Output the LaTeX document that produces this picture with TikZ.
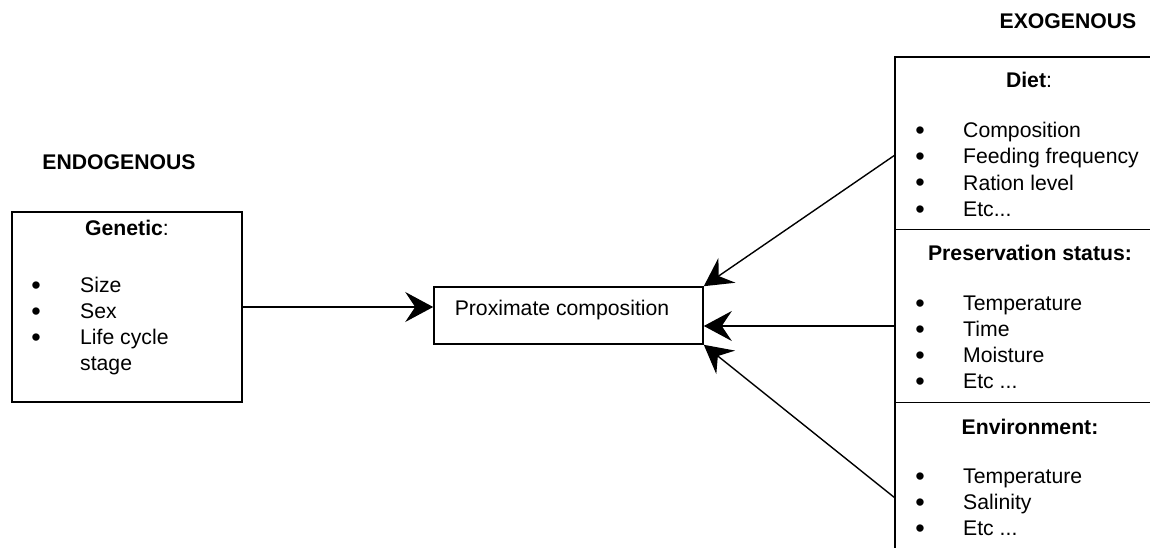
\documentclass[tikz,border=0pt]{standalone}
\usepackage{fontspec}
\setmainfont{Liberation Sans}
\usetikzlibrary{arrows.meta}
\begin{document}
\begin{tikzpicture}[x=1pt,y=-1pt,
  txt/.style={inner sep=0pt, font=\fontsize{21.2}{26}\selectfont},
  bul/.style={inner sep=0pt, anchor=base, font=\fontsize{27}{27}\selectfont, yshift=-2pt},
  item/.style={txt, anchor=base west},
  head/.style={txt, anchor=base},
  box/.style={draw, line width=1.6pt, inner sep=0pt},
  frame/.style={line width=1.6pt},
  conn/.style={line width=1.4pt, -{Stealth[length=28pt,width=30pt,inset=10pt]}}
]
\useasboundingbox (0,0) rectangle (1150,548);

% titles
\node[head] (endo) at (119,170) {\textbf{ENDOGENOUS}};
\node[head] (exo) at (1068,29) {\textbf{EXOGENOUS}};

% genetic box
\node[box, minimum width=230pt, minimum height=190pt] (gen) at (127,307) {};
\node[head] (genh) at (127,235) {\textbf{Genetic}:};
\node[bul] (gb1) at (36,292) {•};
\node[item] (gi1) at (80,292) {Size};
\node[bul] (gb2) at (36,318) {•};
\node[item] (gi2) at (80,318) {Sex};
\node[bul] (gb3) at (36,344) {•};
\node[item] (gi3) at (80,344) {Life cycle};
\node[item] (gi4) at (80,370) {stage};

% proximate composition
\node[box, minimum width=269pt, minimum height=57pt] (prox) at (568.5,315.5) {};
\node[txt] (proxt) at (562,310) {Proximate composition};

% right column sections (open on the right)
\node[inner sep=0pt, minimum width=255pt, minimum height=172.5pt] (diet) at (1022.5,143.25) {};
\node[inner sep=0pt, minimum width=255pt, minimum height=173pt] (pres) at (1022.5,316) {};
\node[inner sep=0pt, minimum width=255pt, minimum height=145.5pt] (env) at (1022.5,475.25) {};
\draw[frame] (diet.north east) -- (diet.north west) -- (env.south west);
\draw[frame] (pres.north west) -- (pres.north east);
\draw[frame] (env.north west) -- (env.north east);

% diet
\node[head] (dieth) at (1029,88) {\textbf{Diet}:};
\node[bul] (db1) at (920,138) {•};
\node[item] (di1) at (963,138) {Composition};
\node[bul] (db2) at (920,164) {•};
\node[item] (di2) at (963,164) {Feeding frequency};
\node[bul] (db3) at (920,190) {•};
\node[item] (di3) at (963,190) {Ration level};
\node[bul] (db4) at (920,216) {•};
\node[item] (di4) at (963,216) {Etc...};

% preservation
\node[head] (presh) at (1030,260) {\textbf{Preservation status:}};
\node[bul] (pb1) at (920,310) {•};
\node[item] (pi1) at (963,310) {Temperature};
\node[bul] (pb2) at (920,336) {•};
\node[item] (pi2) at (963,336) {Time};
\node[bul] (pb3) at (920,362) {•};
\node[item] (pi3) at (963,362) {Moisture};
\node[bul] (pb4) at (920,388) {•};
\node[item] (pi4) at (963,388) {Etc ...};

% environment
\node[head] (envh) at (1030,434) {\textbf{Environment:}};
\node[bul] (eb1) at (920,483) {•};
\node[item] (ei1) at (963,483) {Temperature};
\node[bul] (eb2) at (920,509) {•};
\node[item] (ei2) at (963,509) {Salinity};
\node[bul] (eb3) at (920,535) {•};
\node[item] (ei3) at (963,535) {Etc ...};

% connectors
\coordinate (d1) at (895,155);
\coordinate (p1) at (895,326);
\coordinate (e1) at (895,498);
\draw[conn] (gen.east) -- (gen.east -| prox.west);
\draw[conn] (d1) -- (prox.north east);
\draw[conn] (p1) -- (p1 -| prox.east);
\draw[conn] (e1) -- (prox.south east);
\end{tikzpicture}
\end{document}
